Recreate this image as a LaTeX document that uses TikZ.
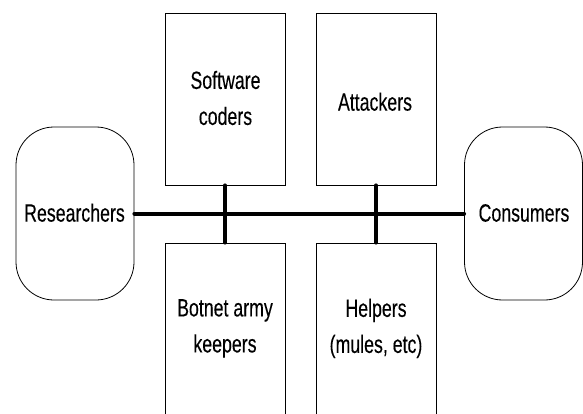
\documentclass[tikz,border=0pt]{standalone}
\usepackage{fontspec}
\setmainfont{Liberation Sans}[FakeStretch=0.71,FakeBold=0.2]
\begin{document}
\begin{tikzpicture}[x=1pt,y=-1pt,
  every node/.style={font=\fontsize{25}{36}\selectfont, align=center, inner sep=0pt},
  actor/.style={draw=black, line width=0.8pt, rounded corners=38pt, minimum width=118pt, minimum height=173pt},
  role/.style={draw=black, line width=0.8pt, minimum width=120pt, minimum height=172pt},
  lowrole/.style={draw=black, line width=0.8pt, minimum width=120pt, minimum height=200pt},
  bus/.style={line width=4pt, line cap=round}]
\useasboundingbox (0,0) rectangle (583,414);
\clip (0,0) rectangle (583,414);
\node[actor] (res) at (75,213.5) {};
\node[actor] (con) at (523.5,213.5) {};
\node (resT) at (74.5,212.7) {Researchers};
\node (conT) at (524,213) {Consumers};
\node[role] (sw) at (225,99) {};
\node[role] (att) at (376,99) {};
\node (swT) at (225.5,98) {Software\\coders};
\node (attT) at (375,101.7) {Attackers};
\node[lowrole] (bot) at (225,343) {};
\node[lowrole] (hlp) at (376,343) {};
\node (botT) at (225,328.4) {Botnet army\\keepers};
\node (hlpT) at (376,328.4) {Helpers\\(mules, etc)};
\draw[bus] (res.east) -- (con.west);
\draw[bus] (sw.south) -- (bot.north);
\draw[bus] (att.south) -- (hlp.north);
\end{tikzpicture}
\end{document}
